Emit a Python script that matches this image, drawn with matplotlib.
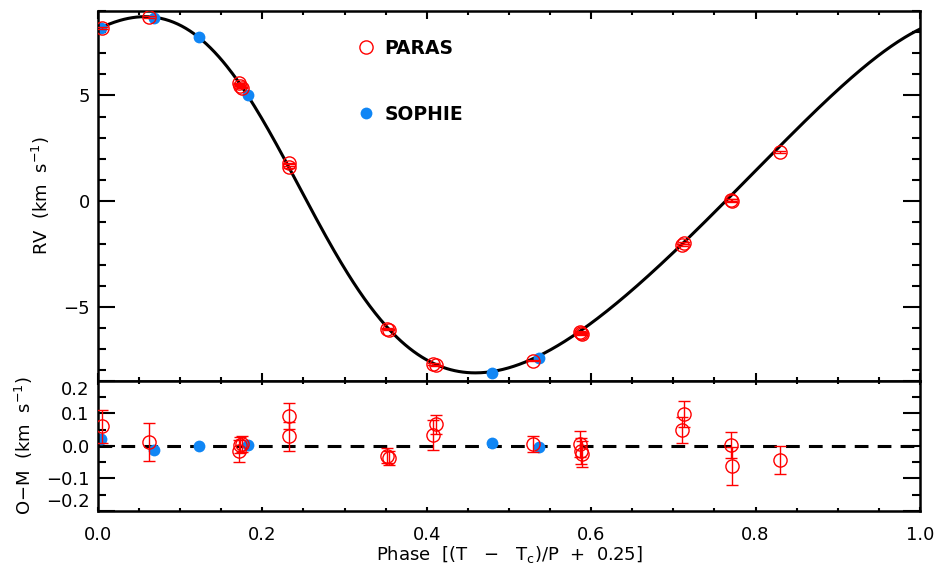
#!/usr/bin/env python3

import numpy as np
import matplotlib
matplotlib.use("Agg")
import matplotlib.pyplot as plt
from matplotlib.ticker import MultipleLocator

# PARAS measurements: phase, RV (km/s), O-M (km/s), error (km/s)
paras_phase = [0.0045, 0.062, 0.171, 0.173, 0.175, 0.2326, 0.2330, 0.352, 0.354,
               0.408, 0.411, 0.5296, 0.587, 0.588, 0.589, 0.711, 0.713, 0.7697,
               0.7717, 0.8297]
paras_rv = [8.20, 8.72, 5.58, 5.47, 5.37, 1.79, 1.63, -6.03, -6.08,
            -7.69, -7.75, -7.55, -6.18, -6.22, -6.26, -2.08, -1.98, 0.07,
            0.03, 2.34]
paras_om = [0.060, 0.012, -0.016, 0.003, 0.006, 0.092, 0.029, -0.030, -0.038,
            0.034, 0.066, 0.006, 0.005, -0.015, -0.025, 0.049, 0.097, 0.003,
            -0.062, -0.044]
paras_err = [0.050, 0.058, 0.033, 0.025, 0.025, 0.040, 0.045, 0.022, 0.022,
             0.047, 0.030, 0.025, 0.040, 0.040, 0.040, 0.039, 0.040, 0.040,
             0.060, 0.043]

# SOPHIE measurements
sophie_phase = [0.004, 0.068, 0.1225, 0.182, 0.4797, 0.536]
sophie_rv = [8.21, 8.66, 7.76, 5.02, -8.12, -7.41]
sophie_om = [0.022, -0.012, 0.0, 0.003, 0.010, -0.003]

# orbital solution (phase 0.25 = transit)
K_AMP = 8.42
ECC = 0.158
OMEGA_DEG = 78.0
GAMMA = 0.03

RED = "#ff0000"
BLUE = "#1086f5"


def rv_model(phase):
    """Keplerian RV curve, phase 0.25 at conjunction."""
    e = ECC
    w = np.radians(OMEGA_DEG)
    nu_tr = np.pi / 2 - w
    E_tr = 2 * np.arctan(np.sqrt((1 - e) / (1 + e)) * np.tan(nu_tr / 2))
    M_tr = E_tr - e * np.sin(E_tr)
    M = M_tr + 2 * np.pi * (np.asarray(phase) - 0.25)
    E = M.copy()
    for _ in range(60):
        E = E - (E - e * np.sin(E) - M) / (1 - e * np.cos(E))
    nu = 2 * np.arctan2(np.sqrt(1 + e) * np.sin(E / 2), np.sqrt(1 - e) * np.cos(E / 2))
    return GAMMA + K_AMP * (np.cos(nu + w) + e * np.cos(w))


def style_axis(ax, ymaj, ymin, ylen, xlen):
    ax.xaxis.set_major_locator(MultipleLocator(0.2))
    ax.xaxis.set_minor_locator(MultipleLocator(0.05))
    ax.yaxis.set_major_locator(MultipleLocator(ymaj))
    ax.yaxis.set_minor_locator(MultipleLocator(ymin))
    ax.tick_params(axis="both", which="both", direction="in",
                   top=True, bottom=True, left=True, right=True, width=1.5)
    ax.tick_params(axis="x", which="major", length=xlen[0])
    ax.tick_params(axis="x", which="minor", length=xlen[1])
    ax.tick_params(axis="y", which="major", length=ylen[0], pad=6)
    ax.tick_params(axis="y", which="minor", length=ylen[1])
    for s in ax.spines.values():
        s.set_linewidth(1.8)


plt.rcParams["font.family"] = ["DejaVu Sans"]
plt.rcParams["font.size"] = 13
plt.rcParams["mathtext.fontset"] = "dejavusans"

fig = plt.figure(figsize=(9.42, 5.73), dpi=100)
ax1 = fig.add_axes([0.104, 0.335, 0.8726, 0.646])
ax2 = fig.add_axes([0.104, 0.1087, 0.8726, 0.2263])

# top panel
phase_grid = np.linspace(0, 1, 600)
ax1.plot(phase_grid, rv_model(phase_grid), color="black", lw=2.2, zorder=1)
sophie_pts, = ax1.plot(sophie_phase, sophie_rv, "o", color=BLUE, ms=8.5,
                       mec="none", zorder=2)
paras_eb = ax1.errorbar(paras_phase, paras_rv, yerr=paras_err, fmt="o", mfc="none",
                        mec=RED, ecolor=RED, ms=9.5, mew=1.0, elinewidth=1.0,
                        capsize=4, zorder=3)
ax1.set_xlim(0, 1)
ax1.set_ylim(-8.5, 9.0)
ax1.set_ylabel(r"RV  (km  s$^{-1}$)", labelpad=8)
ax1.set_xticklabels([])
style_axis(ax1, 5, 1, (12, 6), (5.5, 3))

ax1.legend([paras_eb[0], sophie_pts], ["PARAS", "SOPHIE"],
           loc="upper left", bbox_to_anchor=(0.305, 0.945),
           frameon=False, handlelength=1.0, handletextpad=0.5,
           labelspacing=2.5, borderaxespad=0,
           prop={"weight": "bold", "size": 13.5})

# residual panel
ax2.axhline(0, color="black", lw=2.2, ls=(0, (4.5, 3)), zorder=1)
ax2.plot(sophie_phase, sophie_om, "o", color=BLUE, ms=8.5, mec="none", zorder=2)
ax2.errorbar(paras_phase, paras_om, yerr=paras_err, fmt="o", mfc="none",
             mec=RED, ecolor=RED, ms=9.5, mew=1.0, elinewidth=1.0,
             capsize=4, zorder=3)
ax2.set_xlim(0, 1)
ax2.set_ylim(-0.2, 0.2)
ax2.set_ylabel(r"O$-$M  (km  s$^{-1}$)", labelpad=8)
ax2.set_xlabel(r"Phase  [(T   $-$   T$_{\rm c}$)/P  +  0.25]", labelpad=0)
style_axis(ax2, 0.1, 0.05, (12, 6), (3, 2))
ax2.set_yticks([-0.2, -0.1, 0.0, 0.1, 0.2])
ax2.set_yticklabels(["\u22120.2", "\u22120.1", "0.0", "0.1", "0.2"])
ax2.tick_params(axis="x", which="major", pad=11)
ytl = ax2.get_yticklabels()
ytl[0].set_verticalalignment("bottom")
ytl[-1].set_verticalalignment("top")

fig.savefig("out.png", dpi=100)
